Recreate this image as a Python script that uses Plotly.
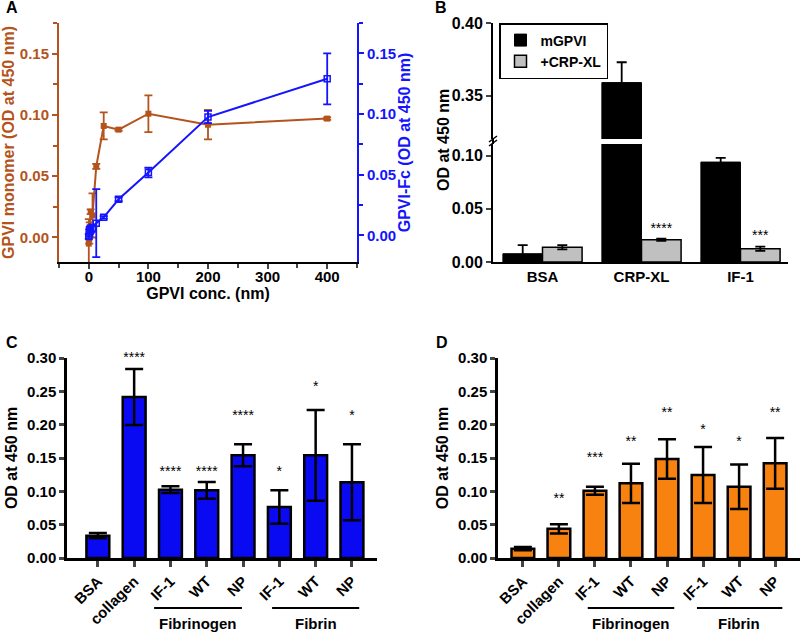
import plotly.graph_objects as go

# ---------------- Panel A data ----------------
conc = [0, 0.78, 1.56, 3.125, 6.25, 12.5, 25, 50, 100, 200, 400]
mono = [-0.005, -0.001, 0.0084, 0.021, 0.018, 0.058, 0.091, 0.088, 0.101, 0.092, 0.097]
mono_err = [0.02, 0.004, 0.004, 0.002, 0.018, 0.002, 0.011, 0.001, 0.015, 0.012, 0.001]
fc = [-0.001, 0.002, 0.004, 0.005, 0.006, 0.010, 0.0148, 0.0297, 0.0517, 0.0975, 0.129]
fc_err = [0.002, 0.003, 0.003, 0.003, 0.003, 0.028, 0.001, 0.0015, 0.004, 0.005, 0.021]

# ---------------- Panel B data ----------------
b_cats = ["BSA", "CRP-XL", "IF-1"]
mgpvi = [0.0078, 0.359, 0.094]
mgpvi_err = [0.008, 0.014, 0.004]
crpxl = [0.0138, 0.021, 0.0125]
crpxl_err = [0.002, 0.001, 0.002]
b_stars = ["", "****", "***"]
b_star_y = [None, 0.034, 0.027]

# ---------------- Panels C / D data ----------------
cd_labels = ["BSA", "collagen", "IF-1", "WT", "NP", "IF-1", "WT", "NP"]
c_vals = [0.0335, 0.2415, 0.1025, 0.1015, 0.154, 0.0765, 0.154, 0.1135]
c_err = [0.004, 0.042, 0.005, 0.0125, 0.0165, 0.025, 0.068, 0.057]
c_stars = ["", "****", "****", "****", "****", "*", "*", "*"]
c_star_y = [None, 0.306, 0.135, 0.135, 0.2185, 0.135, 0.2625, 0.218]

d_vals = [0.014, 0.0437, 0.1008, 0.112, 0.1485, 0.1245, 0.1069, 0.142]
d_err = [0.0025, 0.007, 0.006, 0.0295, 0.0295, 0.042, 0.0335, 0.038]
d_stars = ["", "**", "***", "**", "**", "*", "*", "**"]
d_star_y = [None, 0.094, 0.156, 0.18, 0.2235, 0.198, 0.18, 0.2235]

groups = ["Fibrinogen", "Fibrin"]

BROWN = "#B4541C"
BLUE = "#1414FF"
BAR_BLUE = "#0A0AF2"
ORANGE = "#F8820F"
GRAY = "#C0C0C0"
FONT = "Liberation Sans"

def tf(size=15, color="black"):
    return dict(family=FONT, size=size, color=color, weight="bold")

STAR_FONT = dict(family=FONT, size=14, color="black")

fig = go.Figure()

# ---- Panel A traces ----
fig.add_trace(go.Scatter(
    x=conc, y=mono, mode="lines+markers",
    line=dict(color=BROWN, width=2),
    marker=dict(symbol="square", size=6, color=BROWN),
    error_y=dict(type="data", array=mono_err, color=BROWN, thickness=1.8, width=4),
    xaxis="x", yaxis="y", showlegend=False))
fig.add_trace(go.Scatter(
    x=conc, y=fc, mode="lines+markers",
    line=dict(color=BLUE, width=2),
    marker=dict(symbol="square-open", size=6, color=BLUE, line=dict(width=1.5)),
    error_y=dict(type="data", array=fc_err, color=BLUE, thickness=1.8, width=4),
    xaxis="x", yaxis="y2", showlegend=False))

# ---- Panel B traces (broken axis: lower y3, upper y4) ----
bx = list(range(len(b_cats)))
for ya, show in (("y3", True), ("y4", False)):
    fig.add_trace(go.Bar(
        x=bx, y=mgpvi, name="mGPVI",
        offset=-0.4, width=0.4,
        marker=dict(color="black", line=dict(color="black", width=1)),
        error_y=dict(type="data", array=mgpvi_err, color="black", thickness=1.8, width=5),
        xaxis="x3", yaxis=ya, showlegend=show, legendgroup="m"))
    fig.add_trace(go.Bar(
        x=bx, y=crpxl, name="+CRP-XL",
        offset=0.0, width=0.4,
        marker=dict(color=GRAY, line=dict(color="black", width=1.5)),
        error_y=dict(type="data", array=crpxl_err, color="black", thickness=1.8, width=5),
        xaxis="x3", yaxis=ya, showlegend=show, legendgroup="c"))

# stars in B (above the +CRP-XL bars), small downward nudge so glyph centre sits at the value
fig.add_trace(go.Scatter(
    x=[i + 0.2 for i in bx], y=[None if v is None else v - 0.003 for v in b_star_y],
    text=b_stars, mode="text", textfont=STAR_FONT, cliponaxis=False,
    xaxis="x3", yaxis="y3", showlegend=False, hoverinfo="skip"))

# ---- Panel C / D traces ----
xs = list(range(len(cd_labels)))
fig.add_trace(go.Bar(
    x=xs, y=c_vals, width=0.63,
    marker=dict(color=BAR_BLUE, line=dict(color="black", width=2.5)),
    error_y=dict(type="data", array=c_err, color="black", thickness=2.5, width=9),
    xaxis="x4", yaxis="y5", showlegend=False))
fig.add_trace(go.Bar(
    x=xs, y=d_vals, width=0.63,
    marker=dict(color=ORANGE, line=dict(color="black", width=2.5)),
    error_y=dict(type="data", array=d_err, color="black", thickness=2.5, width=9),
    xaxis="x5", yaxis="y6", showlegend=False))

for stars, sy, xa, ya in ((c_stars, c_star_y, "x4", "y5"), (d_stars, d_star_y, "x5", "y6")):
    fig.add_trace(go.Scatter(
        x=xs, y=[None if v is None else v - 0.006 for v in sy],
        text=stars, mode="text", textfont=STAR_FONT, cliponaxis=False,
        xaxis=xa, yaxis=ya, showlegend=False, hoverinfo="skip"))

# ---------------- layout ----------------
def yA(px):
    return 1 - px / 633.0

layout = dict(
    width=800, height=633,
    margin=dict(l=0, r=0, t=0, b=0, pad=0, autoexpand=False),
    paper_bgcolor="white", plot_bgcolor="white",
    font=dict(family=FONT, size=15, color="black"),
    barmode="overlay",
    showlegend=True,
    legend=dict(x=499 / 800.0, y=yA(23), xanchor="left", yanchor="top",
                bordercolor="black", borderwidth=1.5, bgcolor="white",
                font=tf(14), tracegroupgap=0, itemwidth=30),
)

# Panel A axes
layout["xaxis"] = dict(domain=[0.07375, 0.44625], anchor="y", range=[-50, 450], automargin=False,
                       tickvals=[0, 100, 200, 300, 400], ticks="outside", ticklen=5, tickwidth=2,
                       ticklabelstandoff=-5,
                       minor=dict(dtick=50, tick0=0, ticks="outside", ticklen=4, tickwidth=2),
                       showline=True, linecolor="black", linewidth=2, showgrid=False, zeroline=False,
                       tickfont=tf(15), title=dict(text="GPVI conc. (nm)", font=tf(16), standoff=2))
layout["xaxis2"] = dict(domain=[0.07375, 0.44625], anchor="y", overlaying="x", side="top",
                        range=[-50, 450], tickvals=[0, 100, 200, 300, 400], ticks="inside", ticklen=4,
                        tickwidth=2, minor=dict(dtick=50, tick0=0, ticks="inside", ticklen=4, tickwidth=2),
                        showticklabels=False, showline=True, linecolor="black", linewidth=2,
                        showgrid=False, zeroline=False, automargin=False)
layout["yaxis"] = dict(domain=[yA(262), yA(23)], anchor="x", range=[-0.02, 0.175], automargin=False,
                       tickvals=[0, 0.05, 0.10, 0.15], tickformat=".2f", ticks="outside", ticklen=5,
                       tickwidth=2, tickcolor=BROWN,
                       minor=dict(dtick=0.025, tick0=0, ticks="outside", ticklen=4, tickwidth=2, tickcolor=BROWN),
                       showline=True, linecolor=BROWN, linewidth=2, showgrid=False, zeroline=False,
                       tickfont=tf(15, BROWN),
                       title=dict(text="GPVI monomer (OD at 450 nm)", font=tf(16, BROWN), standoff=4))
layout["yaxis2"] = dict(anchor="x", overlaying="y", side="right", range=[-0.022, 0.175], automargin=False,
                        tickvals=[0, 0.05, 0.10, 0.15], tickformat=".2f", ticks="outside", ticklen=5,
                        tickwidth=2, tickcolor=BLUE,
                        minor=dict(dtick=0.025, tick0=0, ticks="outside", ticklen=4, tickwidth=2, tickcolor=BLUE),
                        showline=True, linecolor=BLUE, linewidth=2, showgrid=False, zeroline=False,
                        tickfont=tf(15, BLUE),
                        title=dict(text="GPVI-Fc (OD at 450 nm)", font=tf(16, BLUE), standoff=4))

# Panel B axes
layout["xaxis3"] = dict(domain=[0.61625, 0.985], anchor="y3", range=[-0.5, 2.48], automargin=False,
                        tickvals=bx, ticktext=b_cats, ticks="",
                        showline=True, linecolor="black", linewidth=2, showgrid=False, zeroline=False,
                        tickfont=tf(15))
layout["yaxis3"] = dict(domain=[yA(262), yA(144)], anchor="x3", range=[0, 0.111], automargin=False,
                        tickvals=[0, 0.05, 0.10], tickformat=".2f", ticks="outside", ticklen=5, tickwidth=2,
                        showline=True, linecolor="black", linewidth=2, showgrid=False, zeroline=False,
                        tickfont=tf(16))
layout["yaxis4"] = dict(domain=[yA(139), yA(23)], anchor="x3", range=[0.3202, 0.40], automargin=False,
                        tickvals=[0.35, 0.40], tickformat=".2f", ticks="outside", ticklen=5, tickwidth=2,
                        showline=True, linecolor="black", linewidth=2, showgrid=False, zeroline=False,
                        tickfont=tf(16))

# Panels C and D axes
def cd_x(dom, anchor, rng):
    return dict(domain=dom, anchor=anchor, range=rng, tickvals=xs, ticktext=cd_labels,
                tickangle=-45, ticks="outside", ticklen=6, tickwidth=2.5, automargin=False,
                showline=True, linecolor="black", linewidth=2.5, showgrid=False, zeroline=False,
                tickfont=tf(15))

def cd_y(anchor):
    return dict(domain=[yA(558), yA(358)], anchor=anchor, range=[0, 0.30], automargin=False,
                tickvals=[0, 0.05, 0.10, 0.15, 0.20, 0.25, 0.30], tickformat=".2f",
                ticks="outside", ticklen=5, tickwidth=2.5,
                showline=True, linecolor="black", linewidth=2.5, showgrid=False, zeroline=False,
                tickfont=tf(15), title=dict(text="OD at 450 nm", font=tf(16), standoff=6))

layout["xaxis4"] = cd_x([0.08375, 0.47125], "y5", [-0.85, 7.69])
layout["yaxis5"] = cd_y("x4")
layout["xaxis5"] = cd_x([0.6225, 1.0], "y6", [-0.69, 7.69])
layout["yaxis6"] = cd_y("x5")

fig.update_layout(**layout)

# ---------------- annotations ----------------
ann = []
for txt, x, y in (("A", 12, 8), ("B", 441, 7), ("C", 12, 342), ("D", 442, 342)):
    ann.append(dict(text=txt, x=x / 800.0, y=yA(y), xref="paper", yref="paper",
                    showarrow=False, font=tf(16), xanchor="center", yanchor="middle"))

# Panel B y title
ann.append(dict(text="OD at 450 nm", x=443 / 800.0, y=yA(140), xref="paper", yref="paper",
                showarrow=False, textangle=-90, font=tf(16), xanchor="center", yanchor="middle"))

# group labels and lines
shapes = []
for xr, spans, centers in (("x4", [(1.55, 3.97), (4.8, 7.2)], [2.76, 6.0]),
                           ("x5", [(1.8, 4.2), (4.83, 7.2)], [3.0, 6.0])):
    for (a, b), c, g in zip(spans, centers, groups):
        shapes.append(dict(type="line", xref=xr, yref="paper", x0=a, x1=b, y0=yA(608), y1=yA(608),
                           line=dict(color="black", width=2)))
        ann.append(dict(text=g, x=c, y=yA(623), xref=xr, yref="paper", showarrow=False,
                        font=tf(15), xanchor="center", yanchor="middle"))

# axis break marks for panel B
for dy in (0, 4):
    shapes.append(dict(type="line", xref="paper", yref="paper",
                       x0=(493 - 4) / 800.0, x1=(493 + 4) / 800.0,
                       y0=yA(146 - dy), y1=yA(140 - dy), line=dict(color="black", width=1.5)))
shapes.append(dict(type="line", xref="paper", yref="paper", x0=493 / 800.0, x1=493 / 800.0,
                   y0=yA(144), y1=yA(139), line=dict(color="black", width=2)))

fig.update_layout(annotations=ann, shapes=shapes)

fig.write_html("out.html", config={"displayModeBar": False},
               post_script="document.body.style.margin='0';document.body.style.overflow='hidden';")
